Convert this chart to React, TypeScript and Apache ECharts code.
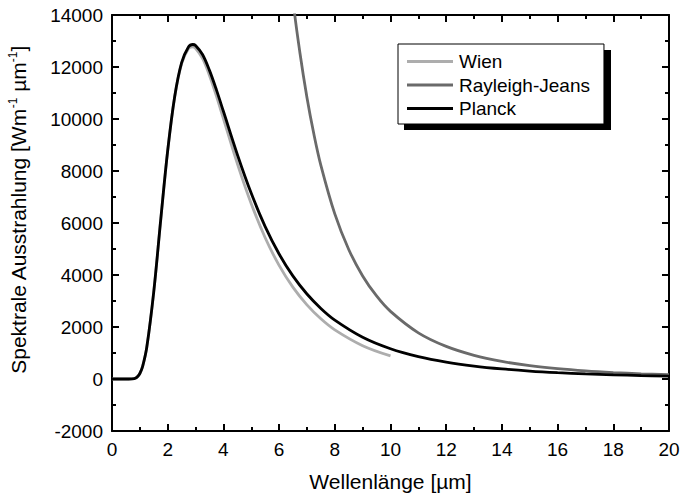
import React, { useEffect, useRef } from "react";
import * as echarts from "echarts";

// Wavelength samples (µm) and read-off values (W m^-1 µm^-1 as labelled)
const planckX = [0, 0.5, 0.6, 0.8, 0.9, 1.0, 1.1, 1.25, 1.5, 1.75, 2.0, 2.25, 2.5, 2.75, 2.9, 3.0, 3.25, 3.5, 3.75, 4.0, 4.5, 5.0, 5.5, 6.0, 6.5, 7.0, 7.5, 8.0, 9.0, 10, 11, 12, 13, 14, 15, 16, 17, 18, 19, 20];
const planckY = [0, 0, 0.2, 17.7, 72, 211, 485, 1229, 3364, 6129, 8789, 10858, 12170, 12780, 12866, 12829, 12480, 11870, 11119, 10296, 8637, 7140, 5863, 4808, 3956, 3269, 2714, 2265, 1606, 1164, 861, 649, 498, 388, 306, 245, 198, 162, 133, 111];

const wienX = [0, 0.5, 0.6, 0.8, 0.9, 1.0, 1.1, 1.25, 1.5, 1.75, 2.0, 2.25, 2.5, 2.75, 2.9, 3.0, 3.25, 3.5, 3.75, 4.0, 4.5, 5.0, 5.5, 6.0, 6.5, 7.0, 7.5, 8.0, 9.0, 10];
const wienY = [0, 0, 0.2, 17.7, 72, 211, 485, 1229, 3364, 6127, 8783, 10840, 12131, 12712, 12776, 12722, 12331, 11675, 10880, 10014, 8284, 6738, 5434, 4371, 3524, 2851, 2315, 1890, 1281, 888];

const rjX = [6.0, 6.5, 6.75, 7.0, 7.25, 7.5, 8.0, 8.5, 9.0, 9.5, 10, 11, 12, 13, 14, 15, 16, 17, 18, 19, 20];
const rjY = [20066, 14569, 12528, 10831, 9413, 8219, 6349, 4982, 3964, 3193, 2601, 1776, 1254, 911, 677, 514, 397, 311, 248, 200, 163];

const seriesNames = ["Wien", "Rayleigh-Jeans", "Planck"];
const seriesColors = ["#adadad", "#6a6a6a", "#000000"];

const xTicks = { min: 0, max: 20, interval: 2 };
const yTicks = { min: -2000, max: 14000, interval: 2000 };

const FONT = "Liberation Sans, Arial, sans-serif";

function pairs(xs: number[], ys: number[]) {
  return xs.map((x, i) => [x, ys[i]]);
}

export default function App() {
  const ref = useRef<HTMLDivElement>(null);
  useEffect(() => {
    if (!ref.current) return;
    const chart = echarts.init(ref.current, undefined, { renderer: "svg" });
    const axisLine = { show: true, onZero: false, lineStyle: { color: "#000", width: 2 } };
    const tick = { show: true, inside: true, length: 7, lineStyle: { color: "#000", width: 2 } };
    const minor = { show: true, splitNumber: 2, length: 4, lineStyle: { color: "#000", width: 2 } };
    const label = { color: "#000", fontSize: 19, fontFamily: FONT, formatter: (v: number) => String(v) };
    const mkLine = (i: number, data: number[][]) => ({
      name: seriesNames[i],
      type: "line",
      data,
      smooth: 0.35,
      showSymbol: false,
      symbol: "none",
      clip: true,
      lineStyle: { color: seriesColors[i], width: 2.8 },
      itemStyle: { color: seriesColors[i] },
      z: 2 + i,
    });
    chart.setOption({
      animation: false,
      backgroundColor: "#fff",
      grid: { left: 112, top: 15, right: 11, bottom: 65, containLabel: false, outerBoundsMode: "none" },
      xAxis: [
        {
          type: "value",
          ...xTicks,
          position: "bottom",
          axisLine,
          axisTick: tick,
          minorTick: minor,
          splitLine: { show: false },
          axisLabel: { ...label, margin: 9 },
          name: "Wellenlänge [µm]",
          nameLocation: "middle",
          nameGap: 40,
          nameTextStyle: { color: "#000", fontSize: 21, fontFamily: FONT },
        },
        {
          type: "value",
          ...xTicks,
          position: "top",
          axisLine,
          axisTick: tick,
          minorTick: minor,
          splitLine: { show: false },
          axisLabel: { show: false },
        },
      ],
      yAxis: [
        {
          type: "value",
          ...yTicks,
          position: "left",
          axisLine,
          axisTick: tick,
          minorTick: minor,
          splitLine: { show: false },
          axisLabel: { ...label, margin: 9 },
          name: "Spektrale Ausstrahlung [Wm{s|-1} µm{s|-1}]",
          nameLocation: "middle",
          nameGap: 82,
          nameTextStyle: {
            color: "#000",
            fontSize: 21,
            fontFamily: FONT,
            padding: [0, 0, 0, 26],
            rich: { s: { fontSize: 12, fontFamily: FONT, color: "#000", padding: [0, 0, 11, 0] } },
          },
        },
        {
          type: "value",
          ...yTicks,
          position: "right",
          axisLine,
          axisTick: tick,
          minorTick: minor,
          splitLine: { show: false },
          axisLabel: { show: false },
        },
      ],
      legend: {
        orient: "vertical",
        left: 398,
        top: 44,
        data: seriesNames,
        icon: "rect",
        itemWidth: 46,
        itemHeight: 3,
        itemGap: 4.5,
        padding: [8, 14, 6, 9],
        backgroundColor: "#fff",
        borderColor: "#000",
        borderWidth: 1,
        borderRadius: 0,
        textStyle: { color: "#000", fontSize: 19, fontFamily: FONT, lineHeight: 19, padding: [0, 0, 0, 1] },
        z: 10,
      },
      graphic: [
        {
          type: "rect",
          shape: { x: 404, y: 50, width: 207, height: 80 },
          style: { fill: "#000" },
          z: 5,
          silent: true,
        },
      ],
      series: [mkLine(0, pairs(wienX, wienY)), mkLine(1, pairs(rjX, rjY)), mkLine(2, pairs(planckX, planckY))],
    });
    return () => chart.dispose();
  }, []);
  return <div ref={ref} style={{ width: 680, height: 496, position: "absolute", left: 0, top: 0 }} />;
}
